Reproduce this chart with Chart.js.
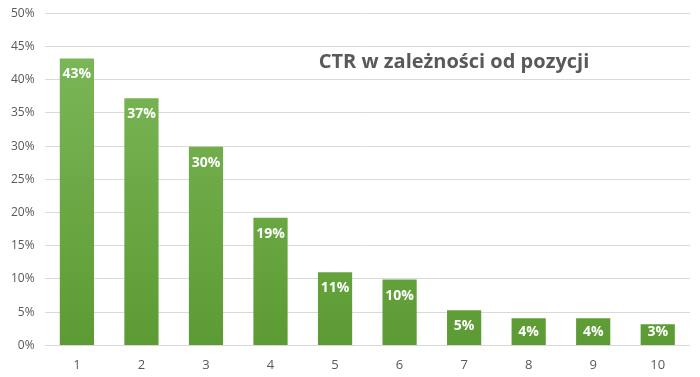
<!DOCTYPE html>
<html>
<head>
<meta charset="utf-8">
<script src="https://cdn.jsdelivr.net/npm/chart.js@4"></script>
<style>
  html, body { margin: 0; padding: 0; background: #fff; overflow: hidden; }
  #wrap { width: 700px; height: 381px; margin-top: -4px; }
</style>
</head>
<body>
<div id="wrap"><canvas id="chart"></canvas></div>
<script>
const positions = ['1', '2', '3', '4', '5', '6', '7', '8', '9', '10'];
const ctrValues = [43.2, 37.2, 29.9, 19.2, 11.0, 9.9, 5.3, 4.1, 4.1, 3.2];
const chartTitle = 'CTR w zależności od pozycji';

const FONT = "'Open Sans', 'Liberation Sans', sans-serif";

// labels inside the top of each bar
const barLabels = {
  id: 'barLabels',
  afterDatasetsDraw(chart) {
    const ctx = chart.ctx;
    const meta = chart.getDatasetMeta(0);
    ctx.save();
    ctx.fillStyle = '#ffffff';
    ctx.font = 'bold 14px ' + FONT;
    ctx.textAlign = 'center';
    ctx.textBaseline = 'middle';
    meta.data.forEach((bar, i) => {
      const y = Math.min(bar.y + 16, bar.base - 13);
      ctx.fillText(Math.round(ctrValues[i]) + '%', bar.x, y);
    });
    ctx.restore();
  }
};

// title drawn inside plot area
const innerTitle = {
  id: 'innerTitle',
  afterDraw(chart) {
    const ctx = chart.ctx;
    ctx.save();
    ctx.fillStyle = '#595959';
    ctx.font = 'bold 20px ' + FONT;
    ctx.textAlign = 'center';
    ctx.textBaseline = 'middle';
    ctx.fillText(chartTitle, 454, 66);
    ctx.restore();
  }
};

const ctx = document.getElementById('chart').getContext('2d');

function barGradient(context) {
  const chart = context.chart;
  const area = chart.chartArea;
  if (!area) return '#6aab45';
  const g = chart.ctx.createLinearGradient(0, area.top, 0, area.bottom);
  g.addColorStop(0, '#7fba5c');
  g.addColorStop(1, '#5c9b33');
  return g;
}

new Chart(ctx, {
  type: 'bar',
  data: {
    labels: positions,
    datasets: [{
      label: 'CTR',
      data: ctrValues,
      backgroundColor: barGradient,
      borderWidth: 0,
      categoryPercentage: 1.0,
      barPercentage: 0.53
    }]
  },
  options: {
    responsive: true,
    maintainAspectRatio: false,
    animation: false,
    layout: { padding: { top: 0, right: 10, left: 1, bottom: 0 } },
    plugins: {
      legend: { display: false },
      title: { display: false },
      tooltip: { enabled: false }
    },
    scales: {
      x: {
        grid: { display: false },
        border: { display: false },
        ticks: { color: '#595959', font: { family: FONT, size: 13 }, padding: 4 }
      },
      y: {
        min: 0,
        max: 50,
        border: { display: false },
        grid: { color: '#d9d9d9', lineWidth: 1, drawTicks: false },
        ticks: {
          stepSize: 5,
          color: '#595959',
          font: { family: FONT, size: 12 },
          padding: 10,
          callback: v => v + '%'
        }
      }
    }
  },
  plugins: [barLabels, innerTitle]
});
</script>
</body>
</html>
